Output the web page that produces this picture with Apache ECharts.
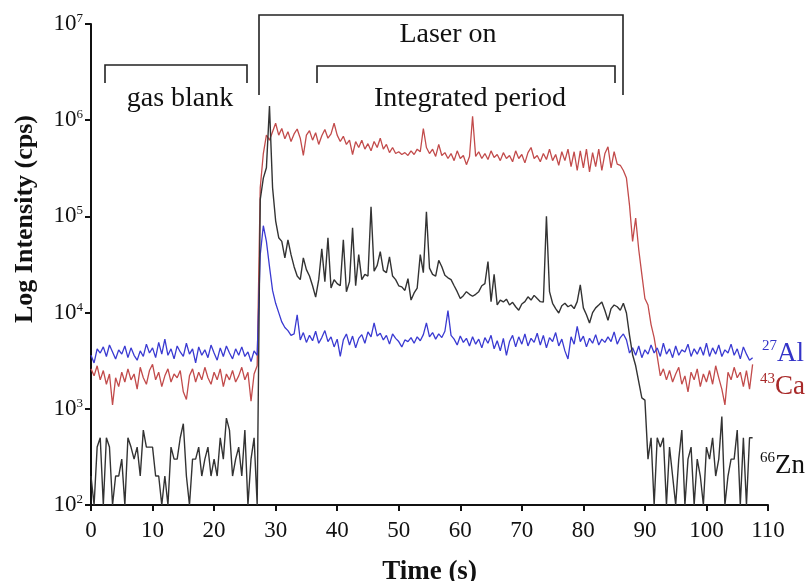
<!DOCTYPE html>
<html>
<head>
<meta charset="utf-8">
<script src="https://cdn.jsdelivr.net/npm/echarts@6/dist/echarts.min.js"></script>
<style>
html,body{margin:0;padding:0;background:#fff;}
#chart{width:809px;height:581px;}
</style>
</head>
<body>
<div id="chart"></div>
<script>
// Sampling times (s)
const time = [
0,0.5,1,1.5,2,2.5,3,3.5,4,4.5,5,5.5,6,6.5,7,7.5,8,8.5,9,9.5,
10,10.5,11,11.5,12,12.5,13,13.5,14,14.5,15,15.5,16,16.5,17,17.5,18,18.5,19,19.5,
20,20.5,21,21.5,22,22.5,23,23.5,24,24.5,25,25.5,26,26.5,27,27.5,28,28.5,29,29.5,
30,30.5,31,31.5,32,32.5,33,33.5,34,34.5,35,35.5,36,36.5,37,37.5,38,38.5,39,39.5,
40,40.5,41,41.5,42,42.5,43,43.5,44,44.5,45,45.5,46,46.5,47,47.5,48,48.5,49,49.5,
50,50.5,51,51.5,52,52.5,53,53.5,54,54.5,55,55.5,56,56.5,57,57.5,58,58.5,59,59.5,
60,60.5,61,61.5,62,62.5,63,63.5,64,64.5,65,65.5,66,66.5,67,67.5,68,68.5,69,69.5,
70,70.5,71,71.5,72,72.5,73,73.5,74,74.5,75,75.5,76,76.5,77,77.5,78,78.5,79,79.5,
80,80.5,81,81.5,82,82.5,83,83.5,84,84.5,85,85.5,86,86.5,87,87.5,88,88.5,89,89.5,
90,90.5,91,91.5,92,92.5,93,93.5,94,94.5,95,95.5,96,96.5,97,97.5,98,98.5,99,99.5,
100,100.5,101,101.5,102,102.5,103,103.5,104,104.5,105,105.5,106,106.5,107,107.5
];

// 43Ca intensity (cps)
const ca43 = [
2600,2200,2800,2000,2500,1800,2300,1100,2100,1700,2400,1900,2600,2000,2300,1600,2700,2100,1800,2500,
2900,2000,2400,1700,2200,2600,1900,2300,2100,2500,1500,1250,2200,2600,1900,2400,2000,2700,2100,1800,
2400,2000,2600,1700,2300,2000,2500,1900,2200,2700,2000,2400,1200,2300,2800,
200000,
450000,700000, 620000,760000, 930000,700000, 820000,640000, 760000,600000, 720000,810000,
650000,430000, 700000,780000, 620000,740000, 560000,690000, 800000,650000, 720000,930000,
700000,600000, 680000,560000, 620000,440000, 600000,520000, 620000,500000, 570000,480000,
600000,520000, 650000,500000, 560000,460000, 520000,450000, 470000,440000, 460000,430000,
480000,440000, 500000,470000, 820000,520000, 450000,500000, 420000,560000, 430000,460000,
400000,450000, 380000,480000, 400000,430000, 345000,420000, 1100000,420000, 470000,400000,
450000,390000, 480000,410000, 440000,380000, 460000,400000, 430000,370000, 480000,400000,
440000,360000, 460000,520000, 400000,430000, 370000,450000, 390000,500000, 380000,440000,
340000,470000, 380000,500000, 330000,470000, 300000,480000, 320000,500000, 290000,460000,
330000,500000, 300000,450000, 530000,320000, 470000,350000, 340000,300000, 250000,130000,
55000,96000, 45000,25000, 14000,12000, 7500,5500, 3500,
2200,2600,2000,2500,1900,2300,2700,1800,2200,1500,2400,2000,2600,1700,2300,1900,2500,1800,2800,2100,
1600,1100,2400,2000,2700,2100,2400,1700,2500,1600,2900
];

// 27Al intensity (cps)
const al27 = [
3600,3000,4200,3800,4400,3500,4600,3900,3300,4100,3700,4500,3400,4300,3600,3200,4000,3500,4700,3800,
4300,3400,4900,3700,5300,3600,4200,3300,4500,3900,3500,4800,3700,4200,3000,4400,3600,4100,3400,4600,
3800,3200,4300,3500,4500,3800,3300,4200,3600,4400,3500,3900,3100,4000,3600,
40000,80000,55000,30000,17000,12500,10000,8000,7000,6500,5800,
6000,9500, 5200,6200, 4900,5800, 5100,6400, 4800,5500, 6500,5000, 5600,4400, 5300,3500,
5200,6000, 4600,5700, 4300,5400, 5900,4800, 6300,5600, 7800,5700, 6100,5200, 5800,4700,
6000,5400, 5000,4400, 5200,5000, 5500,4800, 5600,5100, 5900,7800, 5600,6200, 5300,6000,
5500,6400, 10500,5800, 5300,4600, 5700,4900, 5400,4500, 5600,4700, 5300,4300, 5500,4800,
5800,4200, 5100,4000, 5400,3600, 5000,5800, 4400,5600, 4700,6000, 4500,5400, 4900,6100,
4600,5800, 4300,5500, 5000,6200, 4500,5300, 4000,3300, 5600,4700, 7200,5000, 5700,4400,
5400,4800, 5900,4600, 5300,4900, 5600,5000, 6300,4700, 5500,6000, 5200,
3800,4300,3600,4500,3400,4100,3700,4600,3800,4300,3500,4800,3700,4200,3400,4500,3600,4100,3900,4700,
3500,4200,3700,4400,3600,4800,3500,4300,3700,4600,3500,4100,3800,4700,3600,4200,3300,4400,3700,3200,3400
];

// 66Zn intensity (cps)
const zn66 = [
200,100,400,500,100,500,400,100,200,200,300,100,500,400,300,400,200,600,400,400,
400,200,200,100,200,100,400,300,300,500,700,200,100,300,300,400,200,300,400,200,
300,200,500,300,800,600,200,300,400,200,600,100,300,500,100,
150000,
250000,320000, 1400000,200000, 90000,60000, 55000,37000, 57000,40000, 30000,24000,
22000,37000, 28000,24000, 19000,14500, 22000,46000, 21000,60000, 18000,22000,
20000,19000, 57000,16500, 21000,76000, 19000,40000, 22000,25000, 24000,126000,
27000,31000, 43000,27500, 26000,38000, 24000,22000, 19000,18500, 17000,22500,
13500,16000, 18000,40000, 26000,112000, 29000,25000, 24000,35000, 30000,24500,
23000,22000, 19000,16500, 14000,15000, 16500,15500, 14800,15500, 16500,19000,
20000,34000, 13000,25000, 12000,13500, 12900,13800, 12000,12800, 11500,10600,
12300,13000, 14600,13500, 15100,14000, 13000,12900, 100000,16500, 12500,11000,
9900,11800, 12500,11500, 12000,11000, 13000,19400, 11200,9500, 7800,10000,
11200,12000, 12900,10500, 8300,11000, 12000,11500, 10600,12500, 9900,5800,
3650,2800, 1900,1300, 1230,
300,500,100,500,400,500,100,400,200,100,300,600,100,300,400,100,300,200,100,400,
300,500,200,300,830,100,200,300,300,600,100,500,100,500,500
];

const xTicks = [0,10,20,30,40,50,60,70,80,90,100,110];

[ca43, al27, zn66].forEach(function(a, k){
  if (a.length !== time.length) console.error('length mismatch', k, a.length, time.length);
});

const pair = function(arr){ return time.map(function(t, i){ return [t, arr[i]]; }); };

const FONT = '"Liberation Serif", "Times New Roman", serif';
const chart = echarts.init(document.getElementById('chart'));

function bracket(x1, x2, yTop, yBot){
  return {
    type: 'polyline',
    shape: { points: [[x1, yBot], [x1, yTop], [x2, yTop], [x2, yBot]] },
    style: { stroke: '#222', lineWidth: 1.6, fill: null },
    silent: true
  };
}
function label(x, y, text){
  return {
    type: 'text', x: x, y: y,
    style: { text: text, font: '28px ' + FONT, fill: '#111', align: 'center', verticalAlign: 'middle' },
    silent: true
  };
}
function isoLabel(x, y, mass, sym, color){
  return {
    type: 'text', x: x, y: y,
    style: {
      text: '{s|' + mass + '}{b|' + sym + '}',
      align: 'left', verticalAlign: 'middle',
      rich: {
        s: { fontFamily: FONT, fontSize: 15, fill: color, verticalAlign: 'top', lineHeight: 16 },
        b: { fontFamily: FONT, fontSize: 27, fill: color, lineHeight: 30 }
      }
    },
    silent: true
  };
}

chart.setOption({
  animation: false,
  backgroundColor: '#fff',
  grid: { left: 91, right: 41, top: 24, bottom: 76, containLabel: false, outerBoundsMode: 'none' },
  xAxis: {
    type: 'value', min: 0, max: 110, interval: 10,
    name: 'Time (s)', nameLocation: 'middle', nameGap: 54,
    nameTextStyle: { fontFamily: FONT, fontSize: 27, fontWeight: 'bold', color: '#111' },
    axisLine: { show: true, lineStyle: { color: '#111', width: 2 } },
    axisTick: { show: true, length: 6, lineStyle: { color: '#111', width: 2 } },
    axisLabel: { fontFamily: FONT, fontSize: 23, color: '#111', margin: 14,
      customValues: xTicks },
    splitLine: { show: false }
  },
  yAxis: {
    type: 'log', logBase: 10, min: 100, max: 10000000,
    axisLine: { show: true, lineStyle: { color: '#111', width: 2 } },
    axisTick: { show: true, length: 6, lineStyle: { color: '#111', width: 2 } },
    axisLabel: {
      margin: 8,
      formatter: function(v){ return '{b|10}{s|' + Math.round(Math.log10(v)) + '}'; },
      rich: {
        b: { fontFamily: FONT, fontSize: 23, color: '#111', lineHeight: 24 },
        s: { fontFamily: FONT, fontSize: 13, color: '#111', verticalAlign: 'top', lineHeight: 13 }
      }
    },
    splitLine: { show: false },
    minorTick: { show: false }
  },
  series: [
    { name: '43Ca', type: 'line', data: pair(ca43), showSymbol: false, symbol: 'none',
      lineStyle: { color: '#c24b4b', width: 1.3 }, itemStyle: { color: '#c24b4b' }, clip: true, z: 2 },
    { name: '27Al', type: 'line', data: pair(al27), showSymbol: false, symbol: 'none',
      lineStyle: { color: '#3a3ad2', width: 1.3 }, itemStyle: { color: '#3a3ad2' }, clip: true, z: 3 },
    { name: '66Zn', type: 'line', data: pair(zn66), showSymbol: false, symbol: 'none',
      lineStyle: { color: '#333333', width: 1.4 }, itemStyle: { color: '#333333' }, clip: true, z: 4 }
  ],
  graphic: [
    bracket(105, 247, 65, 83),
    bracket(259, 623, 15, 95),
    bracket(317, 615, 66, 83),
    label(180, 99, 'gas blank'),
    label(448, 35, 'Laser on'),
    label(470, 99, 'Integrated period'),
    isoLabel(762, 354, '27', 'Al', '#3434c8'),
    isoLabel(760, 387, '43', 'Ca', '#a82a2a'),
    isoLabel(760, 466, '66', 'Zn', '#111111'),
    {
      type: 'text', x: 25, y: 219, rotation: Math.PI / 2,
      style: { text: 'Log Intensity (cps)', font: 'bold 26px ' + FONT, fill: '#111',
        align: 'center', verticalAlign: 'middle' },
      silent: true
    }
  ]
});
</script>
</body>
</html>
